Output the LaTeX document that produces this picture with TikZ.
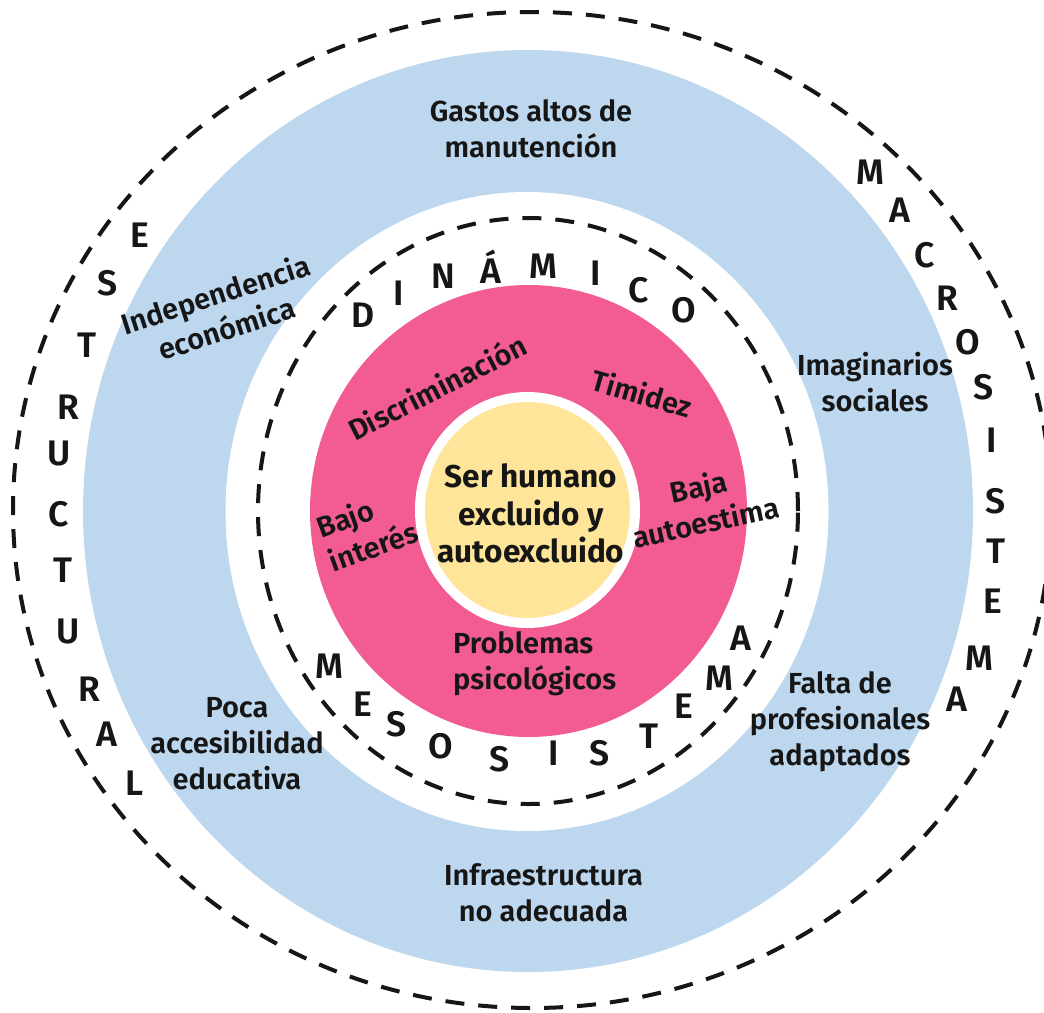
\documentclass[tikz,border=0pt]{standalone}
\usepackage{fontspec}
\setmainfont{Fira Sans}[UprightFont={* SemiBold}, BoldFont={* Bold}]
\definecolor{ringblue}{RGB}{189,215,238}
\definecolor{ringpink}{RGB}{242,92,146}
\definecolor{coreyellow}{RGB}{255,229,153}
\definecolor{inkdark}{RGB}{22,22,22}
\tikzset{
  dashring/.style={draw=inkdark, line width=4pt, dash pattern=on 19pt off 14pt},
  lbl/.style={font=\fontsize{29}{36}\selectfont, align=center, inner sep=0pt, text=inkdark},
  ctr/.style={font=\bfseries\fontsize{31.5}{37.5}\selectfont, align=center, inner sep=0pt, text=inkdark},
  spl/.style={font=\fontsize{35.5}{35.5}\selectfont, inner sep=0pt, text height=24.4pt, text depth=0pt, anchor=center, text=inkdark}
}
\begin{document}
\begin{tikzpicture}[x=1pt,y=-1pt]
\useasboundingbox (0,0) rectangle (1044,1012);
\fill[white] (0,0) rectangle (1044,1012);
% rings
\fill[ringblue] (528,511) ellipse [x radius=445pt, y radius=461pt];
\fill[white] (527,511.5) ellipse [x radius=301.5pt, y radius=319.5pt];
\draw[dashring] (528,511) ellipse [x radius=270pt, y radius=293pt];
\fill[ringpink] (528.5,511) ellipse [x radius=218.5pt, y radius=226pt];
\fill[white] (527.5,510) ellipse [x radius=112.5pt, y radius=118pt];
\fill[coreyellow] (527.5,510) ellipse [x radius=102.5pt, y radius=108pt];
\draw[dashring] (532,510) ellipse [x radius=519pt, y radius=498pt];
% core
\node[ctr] (core) at (531,513.5) {Ser humano\\excluido y\\autoexcluido};
% pink ring labels
\node[lbl, rotate=27] (discr) at (437,387) {Discriminación};
\node[lbl, rotate=-16] (timid) at (642,393) {Timidez};
\node[lbl, rotate=12] (baja) at (702,504) {Baja\\autoestima};
\node[lbl, rotate=20, align=left] (bajo) at (367,529) {Bajo\\interés};
\node[lbl, align=left, anchor=west] (probl) at (453,663.5) {Problemas\\psicológicos};
% blue ring labels
\node[lbl] (gastos) at (531,129) {Gastos altos de\\manutención};
\node[lbl] (imag) at (875,382.5) {Imaginarios\\sociales};
\node[lbl] (falta) at (840,722) {Falta de\\profesionales\\adaptados};
\node[lbl] (infra) at (543.5,892.5) {Infraestructura\\no adecuada};
\node[lbl] (poca) at (237,743.5) {Poca\\accesibilidad\\educativa};
\node[lbl, rotate=18] (indep) at (221,311) {Independencia\\económica};
% spaced words
\foreach \l/\px/\py [count=\i] in {E/140/235, S/108/283, T/87/345, R/68/407, U/59/453, C/59/514, T/63/570, U/68/631, R/89/689, A/107/734, L/135/783}
  \node[spl] (estr\i) at (\px,\py) {\l};
\foreach \l/\px/\py [count=\i] in {M/870/172, A/900/210, C/925/255, R/947/298, O/968/342, S/984/387, I/992/440, S/996/501, T/996/551, E/993/601, M/979/658, A/957/699}
  \node[spl] (macro\i) at (\px,\py) {\l};
\foreach \l/\px/\py [count=\i] in {D/363/315.5, I/399/293.5, N/443/276.5, Á/491/271.5, M/543/266.5, I/596/273.5, C/639/290.5, O/684/310.5}
  \node[spl] (dina\i) at (\px,\py) {\l};
\foreach \l/\px/\py [count=\i] in {M/329/666, E/363/704, S/397/724, O/441/746, S/500/759, I/554/753, S/600/753, T/649/736, E/684/706, M/719/678, A/741/638}
  \node[spl] (meso\i) at (\px,\py) {\l};
\end{tikzpicture}
\end{document}
